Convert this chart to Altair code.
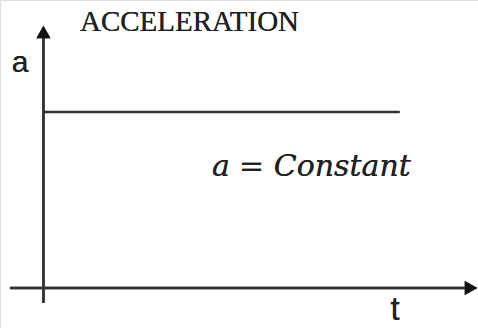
import altair as alt
import pandas as pd

# Motion graph: constant acceleration over time
t_values = [0.0, 8.2]
a_values = [4.4, 4.4]

line_df = pd.DataFrame({"t": t_values, "a": a_values})

X = alt.Scale(domain=[-1, 10], nice=False, zero=False)
Y = alt.Scale(domain=[-1, 7.2], nice=False, zero=False)
INK = "#333333"

def xd(v):
    return alt.X(datum=v, type="quantitative", scale=X, axis=None)

def yd(v):
    return alt.Y(datum=v, type="quantitative", scale=Y, axis=None)

base = alt.Chart(line_df)

# axes drawn as rules with arrowheads
t_axis = base.mark_rule(color=INK, strokeWidth=2.5).encode(
    x=xd(-0.77), x2=alt.X2(datum=9.75), y=yd(0)
)
a_axis = base.mark_rule(color=INK, strokeWidth=2.5).encode(
    x=xd(0), y=yd(-0.375), y2=alt.Y2(datum=6.3)
)
arrow_up = base.mark_point(
    shape="M0,-0.9L1,0.9L-1,0.9Z", filled=True, color="#111", size=196, opacity=1
).encode(x=xd(0), y=yd(6.4))
arrow_right = base.mark_point(
    shape="M0.9,0L-0.9,1L-0.9,-1Z", filled=True, color="#111", size=196, opacity=1
).encode(x=xd(9.84), y=yd(0))

accel_line = base.mark_line(color=INK, strokeWidth=2.5).encode(
    x=alt.X("t:Q", scale=X, axis=None),
    y=alt.Y("a:Q", scale=Y, axis=None),
)

def label(text, x, y, font, size, italic=False, align="left"):
    return base.mark_text(
        text=text, font=font, fontSize=size, color="#222222",
        align=align, baseline="alphabetic",
        fontStyle="italic" if italic else "normal",
    ).encode(x=xd(x), y=yd(y))

title = label("ACCELERATION", 0.84, 6.43, "Liberation Serif", 29)
a_lab = label("a", -0.54, 5.4, "Liberation Sans", 30, align="center")
t_lab = label("t", 8.09, -0.8, "Liberation Sans", 33, align="center")
eq_a = label("a", 3.88, 2.8, "DejaVu Serif", 30, italic=True)
eq_eq = label("=", 4.5, 2.8, "DejaVu Serif", 30)
eq_c = label("Constant", 5.3, 2.8, "DejaVu Serif", 30, italic=True)

chart = alt.layer(
    t_axis, a_axis, accel_line, arrow_up, arrow_right,
    title, a_lab, t_lab, eq_a, eq_eq, eq_c,
).properties(
    width=478, height=328, padding=0, autosize=alt.AutoSizeParams(type="none")
).configure_view(stroke=None).configure(background="white")

chart.save("out.html", embed_options={"renderer": "svg", "actions": False})
